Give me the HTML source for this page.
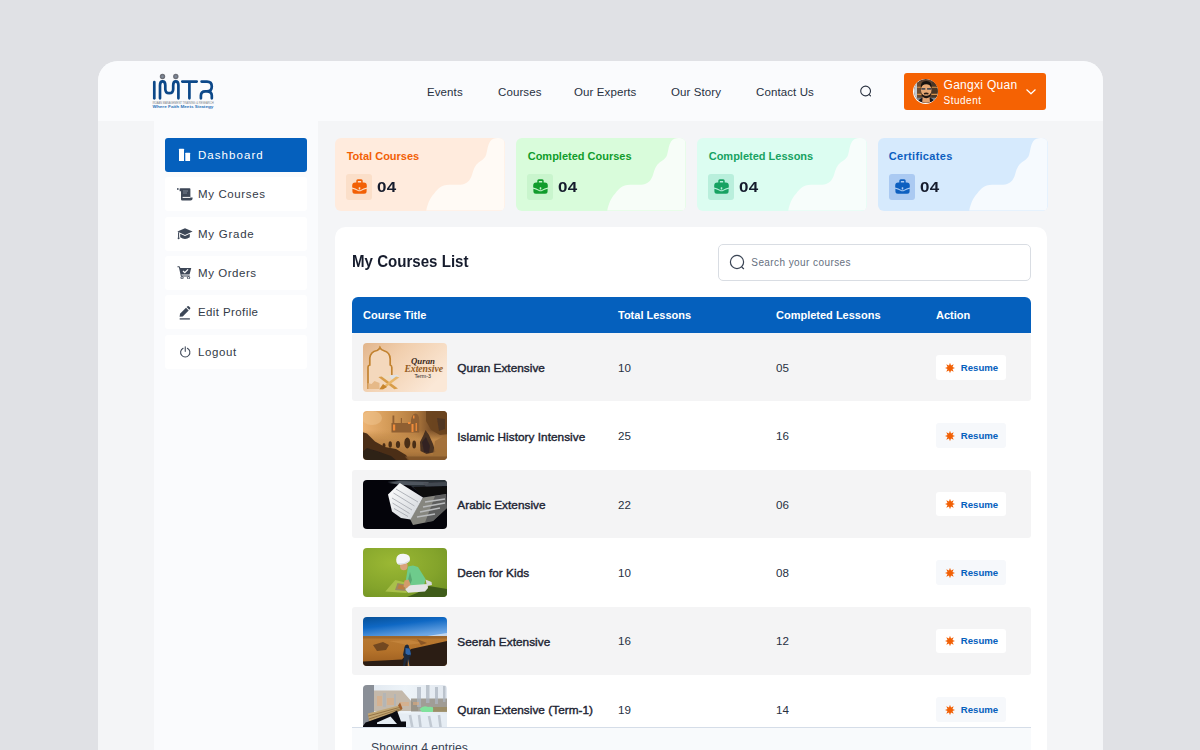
<!DOCTYPE html>
<html>
<head>
<meta charset="utf-8">
<style>
*{box-sizing:border-box;margin:0;padding:0}
html,body{width:1200px;height:750px;overflow:hidden}
body{background:#e0e1e5;font-family:"Liberation Sans",sans-serif;position:relative;color:#1d2433}
.abs{position:absolute}
#app{position:absolute;left:98px;top:61px;width:1005px;height:700px;background:#f4f5f7;border-radius:20px 20px 0 0;overflow:hidden}
#in{position:absolute;left:-1px;top:0;width:1006px;height:700px}
#hdr{position:absolute;left:0;top:0;width:1006px;height:60px;background:#fafbfd}
#side{position:absolute;left:57px;top:60px;width:164px;height:640px;background:#fafbfd}
.nav a{position:absolute;top:24.5px;font-size:11.5px;color:#27303f;white-space:nowrap;letter-spacing:.1px}
.sb{position:absolute;left:68px;width:142px;height:34px;background:#fff;border-radius:3px;font-size:11.5px;color:#333a47;letter-spacing:.35px}
.sb span{position:absolute;left:33px;top:11.2px;white-space:nowrap}
.sb svg{position:absolute;left:12px;top:10px;width:14px;height:14px}
.sb.act{background:#0560bd;color:#fff}
.card{position:absolute;top:77px;width:169.5px;height:72.5px;border-radius:6px;overflow:hidden}
.card .t{position:absolute;left:11.7px;top:12px;font-size:11px;font-weight:bold;white-space:nowrap}
.card .n{position:absolute;left:42.3px;top:40.4px;font-size:15px;letter-spacing:.2px;transform:scaleX(1.13);transform-origin:0 0;font-weight:bold;color:#161c2d}
.card .ic{position:absolute;left:11px;top:36px;width:26px;height:26px;border-radius:3px}
.card svg.w{position:absolute;left:0;top:0;width:169.5px;height:72.5px}
#panel{position:absolute;left:238px;top:166px;width:712.2px;height:540px;background:#fff;border-radius:10.5px}
#thead{position:absolute;left:17px;top:70px;width:678.5px;height:36px;background:#0560bd;border-radius:6px 6px 0 0;color:#fff;font-size:11px;font-weight:bold}
#thead span{position:absolute;top:12px;white-space:nowrap}
.row{position:absolute;left:17px;width:678.5px;height:68px;font-size:11px;color:#27303f}
.row.g{background:#f4f4f5;border-radius:3px}
.row .th{position:absolute;left:11px;top:10px;width:84px;height:49px;border-radius:4px;overflow:hidden}
.row .nm{position:absolute;left:105.3px;top:28.2px;font-size:11.8px;letter-spacing:.03px;-webkit-text-stroke:.4px #1d2433;color:#1d2433;white-space:nowrap}
.row .c1{position:absolute;left:266px;top:27.9px;font-size:11.6px}
.row .c2{position:absolute;left:424px;top:27.9px;font-size:11.6px}
.row .bt{position:absolute;left:583.8px;top:22px;width:70.5px;height:24.6px;background:#fff;border-radius:3px;color:#0560bd;font-weight:bold;font-size:9.5px}
.row.w .bt{background:#f6f8fb}
.row .bt span{position:absolute;left:25px;top:6.8px;font-size:9.6px}
.row .bt svg{position:absolute;left:9.2px;top:7.6px;width:10px;height:10px}
</style>
</head>
<body>
<div id="app"><div id="in">
  <div id="hdr">
    <div class="nav">
      <a style="left:330px">Events</a>
      <a style="left:401px">Courses</a>
      <a style="left:477px">Our Experts</a>
      <a style="left:574px">Our Story</a>
      <a style="left:659px">Contact Us</a>
    </div>
    <svg class="abs" style="left:48px;top:7px;width:80px;height:45px" viewBox="0 0 80 45">
      <g fill="none" stroke="#0c4889" stroke-width="2.7" stroke-linecap="round" stroke-linejoin="round">
        <path d="M9.3 14V30.3"/>
        <path d="M15 30.3V17.3Q15 13.4 17.6 13.4Q20.3 13.4 20.3 17.3V21Q20.3 25.2 24.2 25.2Q28.2 25.2 28.2 21V17.3Q28.2 13.4 30.8 13.4Q33.4 13.4 33.4 17.3V30.3"/>
        <path d="M37.3 13.6H51.7M44.4 13.6V30.3"/>
        <path d="M56.6 13.6H62Q66.8 13.6 66.8 18.4Q66.8 23.3 62 23.3H60.3Q55.9 23.3 55.9 27.6V30.3M62 23.3Q66.8 23.3 66.8 27.6V30.3"/>
      </g>
      <circle cx="17.5" cy="8.5" r="2.7" fill="#6d7078"/><circle cx="17.5" cy="8.5" r="1.2" fill="#7f8a9c"/>
      <circle cx="30.8" cy="8.5" r="2.7" fill="#6d7078"/><circle cx="30.8" cy="8.5" r="1.2" fill="#7f8a9c"/>
      <text x="7.4" y="36" font-family="Liberation Sans" font-size="2.9" fill="#7a7e86" textLength="61.3" lengthAdjust="spacingAndGlyphs">IRJAAN MANAGEMENT TRAINING &amp; RESEARCH</text>
      <text x="7.6" y="40" font-family="Liberation Sans" font-weight="bold" font-size="2.7" fill="#2b72b8" textLength="60.8" lengthAdjust="spacingAndGlyphs">Where Faith Meets Strategy</text>
    </svg>
    <svg class="abs" style="left:761px;top:22px;width:16px;height:16px" viewBox="0 0 16 16"><circle cx="7.6" cy="8" r="4.9" fill="none" stroke="#2b3342" stroke-width="1.1"/><path d="M11.2 11.6l1.4 1.3" stroke="#2b3342" stroke-width="1.1" stroke-linecap="round"/></svg>
    <div class="abs" style="left:807px;top:11.5px;width:142px;height:37.5px;background:#f56203;border-radius:3px">
      <div class="abs" style="left:9px;top:6px;width:25.4px;height:25.4px;border-radius:50%;background:#fff;overflow:hidden">
        <svg class="abs" style="left:.8px;top:.8px;width:23.8px;height:23.8px;border-radius:50%" viewBox="0 0 24 24">
          <rect width="24" height="24" fill="#5a4030"/>
          <rect x="0" y="0" width="3.200" height="24" fill="#c3cad2"/>
          <rect x="3.200" y="3" width="4.500" height="16" fill="#6a4a30"/>
          <rect x="18" y="3" width="6" height="16" fill="#4a3626"/>
          <path d="M3.200 7.700h5v1.200h-5zM17.500 7.700h6.500v1.200h-6.500zM3.200 15h5v1.200h-5zM17.500 15h6.500v1.200h-6.500z" fill="#d9924a"/>
          <path d="M2 19h6v5H2zM17 19h7v5h-7z" fill="#7f8790"/>
          <path d="M4 24Q5 19.500 9 19L15.500 19Q19.500 19.500 21 24Z" fill="#15161c"/>
          <path d="M8.800 17.500h6.800l.6 6.500H8.200z" fill="#e2a271"/>
          <ellipse cx="12.300" cy="11" rx="5.300" ry="6.800" fill="#e6a874"/>
          <path d="M6.800 9.500Q6.200 2 12.300 2Q18.400 2 17.800 9.500Q16.500 5.200 12.300 5.200Q8.100 5.200 6.800 9.500Z" fill="#16120f"/>
          <path d="M7.200 13Q7.600 19.300 12.300 19.300Q17 19.300 17.400 13Q16.300 17 12.300 16.800Q8.300 17 7.200 13Z" fill="#1b1512"/>
          <path d="M9.800 14.200Q12.300 13.200 14.800 14.200L14.300 15.600Q12.300 15 10.300 15.600Z" fill="#2a1d16"/>
          <path d="M7.400 9.900h4M13.200 9.900h4" stroke="#4a4a50" stroke-width="1.700"/>
        </svg>
      </div>
      <div class="abs" style="left:39.5px;top:5.3px;font-size:12px;color:#fff;letter-spacing:.3px;white-space:nowrap">Gangxi Quan</div>
      <div class="abs" style="left:39.5px;top:22.8px;font-size:10px;color:#fff;letter-spacing:.5px;white-space:nowrap">Student</div>
      <svg class="abs" style="left:121px;top:15px;width:12px;height:8px" viewBox="0 0 12 8"><path d="M1.8 1.8L6 5.8L10.2 1.8" fill="none" stroke="#fff" stroke-width="1.2" stroke-linecap="round" stroke-linejoin="round"/></svg>
    </div>
  </div>
  <div id="side"></div>
  <div class="sb act" style="top:77px;letter-spacing:1.05px"><svg style="left:12px;top:10px;width:14px;height:14px" viewBox="0 0 14 14"><rect x="2" y="0.7" width="5" height="12.4" rx=".5" fill="#fff"/><rect x="8.3" y="4.7" width="4.8" height="8.4" rx=".5" fill="#fff"/></svg><span>Dashboard</span></div>
  <div class="sb" style="top:116.3px;letter-spacing:0.62px"><svg style="left:11.5px;top:11px;width:16px;height:14px" viewBox="0 0 16 14"><rect x="0" y="0.2" width="1.6" height="1.6" fill="#3d4757"/><path d="M2.6 0.8Q2.6 0.2 3.4 0.2H12.6Q13.4 0.2 13.4 1V9.4H15.6Q15.8 12.4 13.4 12.4H5.2Q4 12.4 4 11.2V3.2H2.6Z" fill="#3d4757"/><path d="M5.6 9.4H13.4" stroke="#fff" stroke-width="1"/><path d="M6 3h5M6 5h4" stroke="#8c94a2" stroke-width=".8"/></svg><span>My Courses</span></div>
  <div class="sb" style="top:155.6px;letter-spacing:0.75px"><svg style="left:12px;top:10.8px;width:16px;height:14px" viewBox="0 0 16 14"><path d="M8 1.200L15.600 4.600 8 8 0.400 4.600Z" fill="#3d4757"/><path d="M3.200 6.700V10.300Q8 13.600 12.800 10.300V6.700L8 8.900Z" fill="#3d4757"/><path d="M1.600 5.200V10.800" stroke="#3d4757" stroke-width="1.100"/><circle cx="1.600" cy="11.300" r="1" fill="#3d4757"/></svg><span>My Grade</span></div>
  <div class="sb" style="top:194.9px;letter-spacing:0.55px"><svg style="left:12px;top:9px;width:15px;height:14.5px" viewBox="0 0 16 15"><path d="M0.500 1H2.600L3.600 3H15.200L13.400 9.800H4.600L5 10.900H13.600V12H4.200L2 2.200H0.500Z" fill="#3d4757"/><path d="M6.400 6.200L8.300 8 11.800 4.400" stroke="#fff" stroke-width="1.300" fill="none"/><circle cx="5.400" cy="13.400" r="1.250" fill="none" stroke="#3d4757" stroke-width="1"/><circle cx="12.300" cy="13.400" r="1.250" fill="none" stroke="#3d4757" stroke-width="1"/></svg><span>My Orders</span></div>
  <div class="sb" style="top:234.2px;letter-spacing:0.4px"><svg style="left:13px;top:9.5px;width:13px;height:15px" viewBox="0 0 14 16"><path d="M2.200 9.300L8.600 2.900 11.500 5.800 5.100 12.200 1.700 12.700Z" fill="#3d4757"/><path d="M9.300 2.200L10.200 1.300Q10.900 0.700 11.600 1.300L13 2.700Q13.600 3.400 13 4.100L12.100 5Z" fill="#3d4757"/><path d="M1.800 14.900H12.800" stroke="#3d4757" stroke-width="1.400"/></svg><span>Edit Profile</span></div>
  <div class="sb" style="top:273.5px;letter-spacing:0.62px"><svg style="left:13.5px;top:11px;width:12.5px;height:12.5px" viewBox="0 0 14 14"><path d="M4.600 2.500A5.200 5.200 0 1 0 9.400 2.500" fill="none" stroke="#3d4757" stroke-width="1.200" stroke-linecap="round"/><path d="M7 0.800V6" stroke="#3d4757" stroke-width="1.200" stroke-linecap="round"/></svg><span>Logout</span></div>

  <div class="card" style="left:238px;background:#ffebdd"><svg class="w" viewBox="0 0 170 72.5" preserveAspectRatio="none"><path d="M91.5 72.5C93 66 95 60 99.5 55.5C103 50.5 107 47.5 112 47C118 46.300 124 47.500 129.500 46C134 44.500 136 41 137.500 36.500C139 31 140.500 27 144 24.500C147 22.500 150 21 151.500 17C153 12 153 7 155.500 3.500C157.500 0.800 160 0 163 0H170V72.500Z" fill="#fffaf5"/></svg><div class="t" style="color:#f26005">Total Courses</div><div class="ic" style="background:#fbdfc9"></div><svg style="position:absolute;left:16.5px;top:41px;width:15px;height:15px" viewBox="0 0 15 15"><path d="M4.300 4V1.700Q4.300 0.200 5.800 0.200H9.200Q10.700 0.200 10.700 1.700V4H9.200V2.300Q9.200 1.900 8.800 1.900H6.200Q5.800 1.900 5.800 2.300V4Z" fill="#f26005"/><path d="M0.200 8.500V6.400Q0.200 3.400 3.200 3.400H11.800Q14.800 3.400 14.800 6.400V8.500Q11.200 9.500 9.200 10.700Q7.500 11.700 5.800 10.700Q3.800 9.500 0.200 8.500Z" fill="#f26005"/><path d="M0.400 9.700Q3.800 10.700 5.600 11.800Q7.500 12.900 9.400 11.800Q11.200 10.700 14.600 9.700V12.300Q14.600 14.800 12.100 14.800H2.900Q0.400 14.800 0.400 12.300Z" fill="#f26005"/><rect x="6.700" y="8.200" width="1.600" height="2.200" rx=".5" fill="#fbdfc9"/></svg><div class="n">04</div></div>
  <div class="card" style="left:419px;background:#d9fcdb"><svg class="w" viewBox="0 0 170 72.5" preserveAspectRatio="none"><path d="M91.5 72.5C93 66 95 60 99.5 55.5C103 50.5 107 47.5 112 47C118 46.300 124 47.500 129.500 46C134 44.500 136 41 137.500 36.500C139 31 140.500 27 144 24.500C147 22.500 150 21 151.500 17C153 12 153 7 155.500 3.500C157.500 0.800 160 0 163 0H170V72.500Z" fill="#f7fdf8"/></svg><div class="t" style="color:#119c2c">Completed Courses</div><div class="ic" style="background:#c9f5cd"></div><svg style="position:absolute;left:16.5px;top:41px;width:15px;height:15px" viewBox="0 0 15 15"><path d="M4.300 4V1.700Q4.300 0.200 5.800 0.200H9.200Q10.700 0.200 10.700 1.700V4H9.200V2.300Q9.200 1.900 8.800 1.900H6.200Q5.800 1.900 5.800 2.300V4Z" fill="#119c2c"/><path d="M0.200 8.500V6.400Q0.200 3.400 3.200 3.400H11.800Q14.800 3.400 14.800 6.400V8.500Q11.200 9.500 9.200 10.700Q7.500 11.700 5.800 10.700Q3.800 9.500 0.200 8.500Z" fill="#119c2c"/><path d="M0.400 9.700Q3.800 10.700 5.600 11.800Q7.500 12.900 9.400 11.800Q11.200 10.700 14.600 9.700V12.300Q14.600 14.800 12.100 14.800H2.900Q0.400 14.800 0.400 12.300Z" fill="#119c2c"/><rect x="6.700" y="8.200" width="1.600" height="2.200" rx=".5" fill="#c9f5cd"/></svg><div class="n">04</div></div>
  <div class="card" style="left:600px;background:#dcfdf1"><svg class="w" viewBox="0 0 170 72.5" preserveAspectRatio="none"><path d="M91.5 72.5C93 66 95 60 99.5 55.5C103 50.5 107 47.5 112 47C118 46.300 124 47.500 129.500 46C134 44.500 136 41 137.500 36.500C139 31 140.500 27 144 24.500C147 22.500 150 21 151.500 17C153 12 153 7 155.500 3.500C157.500 0.800 160 0 163 0H170V72.500Z" fill="#f7fdfb"/></svg><div class="t" style="color:#17a262">Completed Lessons</div><div class="ic" style="background:#b9efdc"></div><svg style="position:absolute;left:16.5px;top:41px;width:15px;height:15px" viewBox="0 0 15 15"><path d="M4.300 4V1.700Q4.300 0.200 5.800 0.200H9.200Q10.700 0.200 10.700 1.700V4H9.200V2.300Q9.200 1.900 8.800 1.900H6.200Q5.800 1.900 5.800 2.300V4Z" fill="#17a262"/><path d="M0.200 8.500V6.400Q0.200 3.400 3.200 3.400H11.800Q14.800 3.400 14.800 6.400V8.500Q11.200 9.500 9.200 10.700Q7.500 11.700 5.800 10.700Q3.800 9.500 0.200 8.500Z" fill="#17a262"/><path d="M0.400 9.700Q3.800 10.700 5.600 11.800Q7.500 12.900 9.400 11.800Q11.200 10.700 14.600 9.700V12.300Q14.600 14.800 12.100 14.800H2.900Q0.400 14.800 0.400 12.300Z" fill="#17a262"/><rect x="6.700" y="8.200" width="1.600" height="2.200" rx=".5" fill="#b9efdc"/></svg><div class="n">04</div></div>
  <div class="card" style="left:781px;background:#d6eafd"><svg class="w" viewBox="0 0 170 72.5" preserveAspectRatio="none"><path d="M91.5 72.5C93 66 95 60 99.5 55.5C103 50.5 107 47.5 112 47C118 46.300 124 47.500 129.500 46C134 44.500 136 41 137.500 36.500C139 31 140.500 27 144 24.500C147 22.500 150 21 151.500 17C153 12 153 7 155.500 3.500C157.500 0.800 160 0 163 0H170V72.500Z" fill="#f6fafe"/></svg><div class="t" style="color:#0d5fc0;left:10.7px;letter-spacing:.34px">Certificates</div><div class="ic" style="background:#abcaf2"></div><svg style="position:absolute;left:16.5px;top:41px;width:15px;height:15px" viewBox="0 0 15 15"><path d="M4.300 4V1.700Q4.300 0.200 5.800 0.200H9.200Q10.700 0.200 10.700 1.700V4H9.200V2.300Q9.200 1.900 8.800 1.900H6.200Q5.800 1.900 5.800 2.300V4Z" fill="#0d5fc0"/><path d="M0.200 8.500V6.400Q0.200 3.400 3.200 3.400H11.800Q14.800 3.400 14.800 6.400V8.500Q11.200 9.500 9.200 10.700Q7.500 11.700 5.800 10.700Q3.800 9.500 0.200 8.500Z" fill="#0d5fc0"/><path d="M0.400 9.700Q3.800 10.700 5.600 11.800Q7.500 12.900 9.400 11.800Q11.200 10.700 14.600 9.700V12.300Q14.600 14.800 12.100 14.800H2.900Q0.400 14.800 0.400 12.300Z" fill="#0d5fc0"/><rect x="6.700" y="8.200" width="1.600" height="2.200" rx=".5" fill="#abcaf2"/></svg><div class="n">04</div></div>

  <div id="panel">
    <div class="abs" style="left:17px;top:25.2px;font-size:16.4px;font-weight:bold;color:#161c2d;white-space:nowrap;transform:scaleX(.92);transform-origin:0 0">My Courses List</div>
    <div class="abs" style="left:383px;top:17px;width:313px;height:37px;border:1px solid #d9dde3;border-radius:5px"></div>
    <div id="thead"><span style="left:11px">Course Title</span><span style="left:266px">Total Lessons</span><span style="left:424px">Completed Lessons</span><span style="left:584px">Action</span></div>
    <svg class="abs" style="left:393px;top:26px;width:19px;height:19px" viewBox="0 0 19 19"><circle cx="9" cy="9" r="6.6" fill="none" stroke="#3a4454" stroke-width="1.2"/><path d="M14 14.2l1.6 1.5" stroke="#3a4454" stroke-width="1.2" stroke-linecap="round"/></svg>
    <div class="abs" style="left:416.3px;top:29.9px;font-size:10px;color:#667080;letter-spacing:.42px;white-space:nowrap">Search your courses</div>
    <div class="row g" style="top:106.0px"><div class="th"><svg viewBox="0 0 84 49" width="84" height="49"><defs><linearGradient id="g1" x1="0" y1="0" x2="1" y2=".6"><stop offset="0" stop-color="#e2b58b"/><stop offset=".4" stop-color="#f1cfae"/><stop offset="1" stop-color="#fbe8d7"/></linearGradient></defs><rect width="84" height="49" fill="url(#g1)"/><path d="M5 46V24Q5 22.5 6.8 22V15Q7.5 8.8 14 7.5Q16 6.8 16.9 4.6Q18 7 21 7.8Q27 9.5 27.2 16V22Q28.8 22.5 28.8 24.5V46Z" fill="#f4d8bc"/><path d="M5 46V24Q5 22.5 6.8 22V15Q7.5 8.8 14 7.5Q16 6.8 16.9 4.6Q18 7 21 7.8Q27 9.5 27.2 16V22Q28.8 22.5 28.8 24.5V32" fill="none" stroke="#c2822f" stroke-width="1.7"/><circle cx="16.9" cy="4.4" r=".9" fill="#c98d3e"/><path d="M4.5 46h12v-6l-5-2-3 3-4-1z" fill="#e2b27a" opacity=".8"/><path d="M16 34l10-1.3 2 2.6-9 .7z" fill="#efdcc0"/><path d="M26.3 32.6l8-.8 2 2.2-6 4.6z" fill="#dfe2e4"/><path d="M15.3 34l3.4-.6L35 45.4l-3.6.8z" fill="#d89c48"/><path d="M33 33.4l3.4.8L20.2 46.2h-3.8z" fill="#e9b668"/><path d="M20 41l4 3-4 2.2h-3.6z" fill="#c9862e"/><text x="48" y="20.6" font-family="Liberation Serif" font-style="italic" font-weight="bold" font-size="8.5" fill="#3b2a1b" textLength="24" lengthAdjust="spacingAndGlyphs">Quran</text><text x="41.4" y="29.2" font-family="Liberation Serif" font-style="italic" font-weight="bold" font-size="10" fill="#935a1c" textLength="38.6" lengthAdjust="spacingAndGlyphs">Extensive</text><text x="51.4" y="35.3" font-family="Liberation Sans" font-size="4.6" fill="#2e2a28" textLength="16.6" lengthAdjust="spacingAndGlyphs">Term-3</text></svg></div><div class="nm">Quran Extensive</div><div class="c1">10</div><div class="c2">05</div><div class="bt"><svg viewBox="0 0 10 10"><path d="M5.00 -0.20L6.03 2.51L8.68 1.32L7.49 3.97L10.20 5.00L7.49 6.03L8.68 8.68L6.03 7.49L5.00 10.20L3.97 7.49L1.32 8.68L2.51 6.03L-0.20 5.00L2.51 3.97L1.32 1.32L3.97 2.51Z" fill="#f26005"/></svg><span>Resume</span></div></div>
    <div class="row w" style="top:174.4px"><div class="th"><svg viewBox="0 0 84 49" width="84" height="49"><defs><linearGradient id="g2" x1="0" y1="0" x2="1" y2="0"><stop offset="0" stop-color="#ecb373"/><stop offset=".3" stop-color="#d49b58"/><stop offset=".62" stop-color="#b37c40"/><stop offset=".8" stop-color="#7d522a"/><stop offset="1" stop-color="#694323"/></linearGradient><linearGradient id="g2b" x1="0" y1="0" x2="0" y2="1"><stop offset="0" stop-color="#c38a49" stop-opacity="0"/><stop offset=".3" stop-color="#c48c4c" stop-opacity=".95"/><stop offset=".7" stop-color="#b07a3e"/><stop offset="1" stop-color="#8c5e30"/></linearGradient><filter id="b2"><feGaussianBlur stdDeviation=".55"/></filter></defs><rect width="84" height="49" fill="url(#g2)"/><g filter="url(#b2)"><ellipse cx="9" cy="7" rx="10" ry="7" fill="#f3cc9b" opacity=".4"/><rect x="-2" y="19" width="88" height="32" fill="url(#g2b)"/><path d="M63 -1h22v24l-8 1-9-5-5-9z" fill="#69431f" opacity=".9"/><path d="M74 7l8 1v10l-6 2z" fill="#3a2c28" opacity=".5"/><path d="M28.500 21.500V12h1V4.500h1.800V12h6.500V7h1.200v5h9V9Q49 3 52.500 2.600Q56 3 56.300 9V21.500Z" fill="#8f5f30"/><path d="M30 13.500h2.200v6H30zM45 11h2.400v2H45zM48.500 13h2v8h-2zM52.600 12h1.300v8h-1.300zM50 4.500h1.500v3H50z" fill="#f08c3a"/><path d="M57 31l3.500-7 2-5 3.500 5 4 9 2.500 8-9 2-6-3z" fill="#4a3120"/><path d="M59 31l4-5 4 9-1 7-5-1z" fill="#2a2224" opacity=".8"/><path d="M72 30l13-7v27H64l6-6z" fill="#a06e38" opacity=".85"/><g fill="#4a2d17"><ellipse cx="21" cy="34.500" rx="1.500" ry="2.600"/><ellipse cx="27.200" cy="33.500" rx="1.700" ry="3.200"/><ellipse cx="35" cy="33.500" rx="2.100" ry="3.600"/><ellipse cx="44.300" cy="32" rx="3" ry="5.400"/><ellipse cx="51.200" cy="33.500" rx="1.900" ry="4"/></g><path d="M-1 21l5 1.500 8 8 10 5.500 11 2 10 6 4 6H-1z" fill="#4b2f18"/><path d="M4 37l10 3 14 5 6 5H-1v-9z" fill="#291d18" opacity=".85"/><path d="M42 45.500h44v5H46z" fill="#80552a" opacity=".85"/></g></svg></div><div class="nm">Islamic History Intensive</div><div class="c1">25</div><div class="c2">16</div><div class="bt"><svg viewBox="0 0 10 10"><path d="M5.00 -0.20L6.03 2.51L8.68 1.32L7.49 3.97L10.20 5.00L7.49 6.03L8.68 8.68L6.03 7.49L5.00 10.20L3.97 7.49L1.32 8.68L2.51 6.03L-0.20 5.00L2.51 3.97L1.32 1.32L3.97 2.51Z" fill="#f26005"/></svg><span>Resume</span></div></div>
    <div class="row g" style="top:242.8px"><div class="th"><svg viewBox="0 0 84 49" width="84" height="49"><defs><linearGradient id="g3" x1="0" y1="0" x2="1" y2="1"><stop offset="0" stop-color="#ffffff"/><stop offset="1" stop-color="#cfd3d8"/></linearGradient><filter id="b3"><feGaussianBlur stdDeviation=".7"/></filter></defs><rect width="84" height="49" fill="#04040a"/><g filter="url(#b3)"><path d="M24 2l14-2h46v14l-22 4-14-12z" fill="#2c3038"/><path d="M26 3l10-2 30 1-2 3-26 0z" fill="#5a6068" opacity=".8"/><path d="M60 3l24-1v4l-20 2z" fill="#4a4f58" opacity=".8"/><path d="M50 7l34-1v9l-24 3z" fill="#0b0c11"/><path d="M60 17.5l23-3.5 1 14-14 13-20 4-3-6z" fill="#86867f"/><path d="M72 16l12-2v14l-14 13-8 1.600z" fill="#3a3c42" opacity=".55"/><path d="M62 22l20-3M60 27l22-4M57 32l20-4M54 37l18-3" stroke="#b9bbbd" stroke-width="1.6"/><path d="M25 14.5L36.8 3 60 17.5 47.5 39.5 38 38 29 31.5z" fill="url(#g3)"/><path d="M33 9l22 13M30.5 13l21 13M29 18l20 12M29.500 23l17 10.500M31 28.500l14 8" stroke="#a9adb3" stroke-width=".9"/></g></svg></div><div class="nm">Arabic Extensive</div><div class="c1">22</div><div class="c2">06</div><div class="bt"><svg viewBox="0 0 10 10"><path d="M5.00 -0.20L6.03 2.51L8.68 1.32L7.49 3.97L10.20 5.00L7.49 6.03L8.68 8.68L6.03 7.49L5.00 10.20L3.97 7.49L1.32 8.68L2.51 6.03L-0.20 5.00L2.51 3.97L1.32 1.32L3.97 2.51Z" fill="#f26005"/></svg><span>Resume</span></div></div>
    <div class="row w" style="top:311.2px"><div class="th"><svg viewBox="0 0 84 49" width="84" height="49"><defs><radialGradient id="g4" cx=".35" cy=".3" r=".9"><stop offset="0" stop-color="#9bb834"/><stop offset=".6" stop-color="#84a42b"/><stop offset="1" stop-color="#6f9124"/></radialGradient></defs><rect width="84" height="49" fill="url(#g4)"/><path d="M66 38l18 3v8H44l10-4z" fill="#3f5c1a"/><path d="M32.300 32l10 2.500 1.500 10.500-21.500-1.500z" fill="#a9c04a"/><path d="M34.500 35l7.500 1.500 1 6.500-11-1z" fill="#9c8a62"/><path d="M36 36.500l5 1 .5 4-7-.7z" fill="#c47a3a" opacity=".8"/><path d="M45 18.500l5-1 5 1.500 7.500 12-1.500 7-11.500 1.500-6.700-7z" fill="#6ecb8c"/><path d="M47 24l2 8-1.500 4-2.500-4z" fill="#4e9a68" opacity=".7"/><path d="M43.500 37.500l21-1.500.5 4-3 3.500-17 1.300-2.500-3z" fill="#e4e4e6"/><path d="M62.500 31.500l6 2.500 .5 3-5 1z" fill="#d7d9de"/><path d="M41.500 32.500l4-1 2 5-4 4-3-2z" fill="#d39b6c"/><ellipse cx="40.800" cy="18" rx="3.800" ry="4.200" fill="#d8a27a"/><path d="M33.200 11.500Q33.500 5.500 40.500 5.700Q47 6 47 11Q47 14 43 15.500Q37 17.500 34.500 16Q33 14.500 33.200 11.500Z" fill="#f4f5f8"/><path d="M35 16Q41 17 47 12.500" stroke="#cfd3da" stroke-width=".8" fill="none"/></svg></div><div class="nm">Deen for Kids</div><div class="c1">10</div><div class="c2">08</div><div class="bt"><svg viewBox="0 0 10 10"><path d="M5.00 -0.20L6.03 2.51L8.68 1.32L7.49 3.97L10.20 5.00L7.49 6.03L8.68 8.68L6.03 7.49L5.00 10.20L3.97 7.49L1.32 8.68L2.51 6.03L-0.20 5.00L2.51 3.97L1.32 1.32L3.97 2.51Z" fill="#f26005"/></svg><span>Resume</span></div></div>
    <div class="row g" style="top:379.6px"><div class="th"><svg viewBox="0 0 84 49" width="84" height="49"><defs><linearGradient id="g5" x1="0" y1="0" x2=".5" y2="1"><stop offset="0" stop-color="#075097"/><stop offset=".45" stop-color="#0f68c4"/><stop offset="1" stop-color="#6ea7e4"/></linearGradient><linearGradient id="g5b" x1="0" y1="0" x2="0" y2="1"><stop offset="0" stop-color="#b97a32"/><stop offset=".5" stop-color="#b4722a"/><stop offset="1" stop-color="#9a5c1f"/></linearGradient></defs><rect width="84" height="20" fill="url(#g5)"/><path d="M64 19l20-3v4H60z" fill="#d8e2ee" opacity=".8"/><rect y="19" width="84" height="30" fill="url(#g5b)"/><path d="M0 19h84v2.500H0z" fill="#8a5a28" opacity=".6"/><path d="M10 28l10-3 6 3-3 5-9 1z" fill="#5c3a1c" opacity=".75"/><path d="M26 24l20-1 14 3-16 2z" fill="#d09045" opacity=".5"/><path d="M48 32l16-3.500 20-4.500V49H0v-4.500l39-2z" fill="#2b1d14"/><path d="M54 22l10 4-6 2z" fill="#6a4020" opacity=".6"/><path d="M41.500 30Q42 27.500 44 27.500Q46 27.500 46 30.500L48 34v5l-1.500 1 .5 9h-2.500l-1-6-1.500 6h-2l1-9-1-2z" fill="#1e2a3c"/><path d="M42.500 31l4 .5 1.500 6-3 .5-2.500-1.500z" fill="#2e64a8"/><path d="M45 42l1.500 7h-1.800z" fill="#b98248"/></svg></div><div class="nm">Seerah Extensive</div><div class="c1">16</div><div class="c2">12</div><div class="bt"><svg viewBox="0 0 10 10"><path d="M5.00 -0.20L6.03 2.51L8.68 1.32L7.49 3.97L10.20 5.00L7.49 6.03L8.68 8.68L6.03 7.49L5.00 10.20L3.97 7.49L1.32 8.68L2.51 6.03L-0.20 5.00L2.51 3.97L1.32 1.32L3.97 2.51Z" fill="#f26005"/></svg><span>Resume</span></div></div>
    <div class="row w" style="top:448.0px"><div class="th"><svg viewBox="0 0 84 49" width="84" height="49"><defs><linearGradient id="g6" x1="0" y1="0" x2="1" y2="0"><stop offset="0" stop-color="#dfe6ee"/><stop offset=".5" stop-color="#eef4f9"/><stop offset="1" stop-color="#e2e8ef"/></linearGradient><filter id="b6"><feGaussianBlur stdDeviation=".6"/></filter></defs><rect width="84" height="49" fill="url(#g6)"/><g filter="url(#b6)"><path d="M11 5.500h28l10 11.500h6v9H11z" fill="#c4b9ab"/><path d="M48 13.500h36v13H48z" fill="#8e8a7e" opacity=".8"/><path d="M54 2h4v20h-4zM63 0h3.500v18H63zM72 2h3v17h-3zM80 1h2.500v16H80z" fill="#aeb6c0" opacity=".75"/><path d="M14 11h5v10h-5zM24 13h7v7h-7zM37 17h9v4h-9zM50 17h6v3h-6z" fill="#e0ac7e" opacity=".6"/><path d="M20 8h3v14h-3zM31 9h2v12h-2z" fill="#aab2bc" opacity=".6"/><path d="M56.500 24q4-4 8.500-2 4.500-1 6.500 2l-2 3H59z" fill="#80e29c"/><path d="M70 22h14v5H70z" fill="#9b8a5e" opacity=".8"/><rect x="-1" y="-1" width="12" height="51" fill="#8a8f97"/><path d="M30 28.500h55v21H30z" fill="#e6edf4"/><path d="M47 30l3 16M56 30l2 16M66 31l3 15M76 30l2 16" stroke="#aab2bd" stroke-width="2.600" opacity=".6"/></g><path d="M4.800 28.500l33-8.500 1 5-32 14.500z" fill="#c2a674"/><path d="M5.200 31l33-9M5.800 34l32.500-10.500M6.300 37l32-12.500" stroke="#8a683a" stroke-width=".8"/><path d="M35 20.500l2-3 2.500 6-1.500 1.500z" fill="#a4602c"/><path d="M29.500 28l4.500-2.500 4 11h5v6H-1l3.500-5 4.500-1.500z" fill="#0b0b11"/><path d="M14 37.500l13.500-6 6.500 7.500H14z" fill="#e6edf4"/></svg></div><div class="nm">Quran Extensive (Term-1)</div><div class="c1">19</div><div class="c2">14</div><div class="bt"><svg viewBox="0 0 10 10"><path d="M5.00 -0.20L6.03 2.51L8.68 1.32L7.49 3.97L10.20 5.00L7.49 6.03L8.68 8.68L6.03 7.49L5.00 10.20L3.97 7.49L1.32 8.68L2.51 6.03L-0.20 5.00L2.51 3.97L1.32 1.32L3.97 2.51Z" fill="#f26005"/></svg><span>Resume</span></div></div>
    <div class="abs" style="left:17px;top:500px;width:678.5px;height:60px;background:#f8fafc;border-top:1px solid #d5dde8"><div class="abs" style="left:19px;top:13px;font-size:12.2px;color:#3a4454;white-space:nowrap">Showing 4 entries</div></div>
  </div>
</div></div>
</body>
</html>
